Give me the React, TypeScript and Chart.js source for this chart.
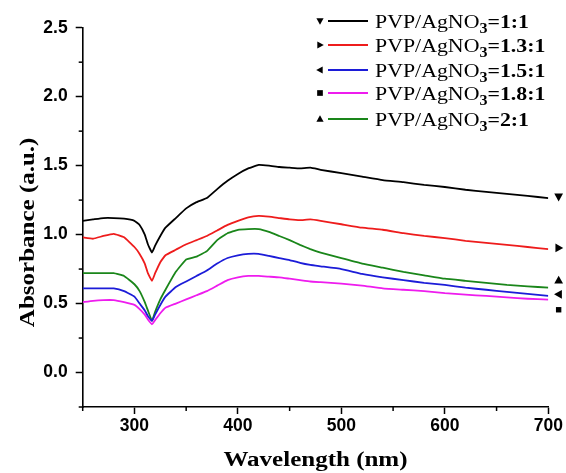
import React, { useEffect, useRef } from 'react';
import { Chart, registerables } from 'chart.js';

Chart.register(...registerables);

// ---------- data ----------
const wavelengths = [250, 260, 270, 280, 290, 300, 305, 310, 313, 317, 320, 325, 330, 340, 350, 360, 370, 380, 390, 400, 410, 420, 430, 440, 450, 460, 470, 480, 500, 520, 540, 560, 580, 600, 620, 640, 660, 680, 700];

const ratio1_1 = [1.10, 1.11, 1.12, 1.12, 1.115, 1.10, 1.07, 1.00, 0.93, 0.87, 0.92, 0.99, 1.05, 1.12, 1.19, 1.235, 1.265, 1.33, 1.39, 1.44, 1.48, 1.505, 1.50, 1.49, 1.485, 1.48, 1.485, 1.47, 1.445, 1.42, 1.395, 1.38, 1.36, 1.345, 1.325, 1.31, 1.295, 1.28, 1.265];
const ratio1_3 = [0.98, 0.97, 0.99, 1.005, 0.98, 0.91, 0.86, 0.79, 0.72, 0.665, 0.72, 0.80, 0.85, 0.89, 0.93, 0.96, 0.99, 1.03, 1.07, 1.10, 1.125, 1.135, 1.13, 1.12, 1.11, 1.105, 1.11, 1.10, 1.075, 1.05, 1.035, 1.01, 0.99, 0.975, 0.955, 0.94, 0.925, 0.91, 0.895];
const ratio1_5 = [0.61, 0.61, 0.61, 0.61, 0.59, 0.55, 0.50, 0.45, 0.41, 0.375, 0.42, 0.49, 0.55, 0.62, 0.66, 0.70, 0.74, 0.79, 0.83, 0.85, 0.86, 0.86, 0.845, 0.83, 0.815, 0.795, 0.78, 0.77, 0.75, 0.715, 0.69, 0.67, 0.65, 0.635, 0.615, 0.60, 0.585, 0.57, 0.555];
const ratio1_8 = [0.51, 0.52, 0.525, 0.525, 0.51, 0.49, 0.46, 0.42, 0.385, 0.35, 0.38, 0.43, 0.47, 0.50, 0.53, 0.56, 0.59, 0.63, 0.67, 0.69, 0.70, 0.70, 0.695, 0.69, 0.68, 0.67, 0.66, 0.655, 0.645, 0.63, 0.61, 0.60, 0.59, 0.575, 0.565, 0.555, 0.545, 0.535, 0.528];
const ratio2_0 = [0.72, 0.72, 0.72, 0.72, 0.70, 0.64, 0.59, 0.51, 0.45, 0.375, 0.44, 0.53, 0.60, 0.73, 0.82, 0.84, 0.88, 0.96, 1.01, 1.035, 1.04, 1.04, 1.02, 0.99, 0.96, 0.925, 0.895, 0.87, 0.83, 0.79, 0.76, 0.73, 0.705, 0.68, 0.665, 0.65, 0.635, 0.625, 0.615];

const seriesValues = [ratio1_1, ratio1_3, ratio1_5, ratio1_8, ratio2_0];
const seriesRatios = ['1:1', '1.3:1', '1.5:1', '1.8:1', '2:1'];
const seriesColors = ['#000000', '#ee1c1c', '#1c1cd8', '#ee1cee', '#1a861a'];
// marker shape per series: down, right, left, square, up
const markerKinds = ['down', 'right', 'left', 'square', 'up'];
const endMarkerX = 710;
const endMarkerY = [1.274, 0.903, 0.567, 0.455, 0.669];

const xMin = 250, xMax = 700, xStep = 50, xLabelStep = 100;
const yMin = -0.25, yMax = 2.5, yStep = 0.25, yLabelStep = 0.5;

const xTitle = 'Wavelength (nm)';
const yTitle = 'Absorbance (a.u.)';
const legendPrefix = 'PVP/AgNO';
const legendSub = '3';

// ---------- helpers ----------
const isMultiple = (v: number, step: number) => Math.abs(v / step - Math.round(v / step)) < 1e-6;

const rotationFor = (k: string) => (k === 'down' ? 180 : k === 'right' ? 90 : k === 'left' ? 270 : 0);

function drawMarker(ctx: CanvasRenderingContext2D, kind: string, x: number, y: number, r: number) {
  ctx.save();
  ctx.fillStyle = '#000';
  ctx.beginPath();
  if (kind === 'square') {
    ctx.rect(x - r * 0.75, y - r * 0.75, r * 1.5, r * 1.5);
  } else {
    ctx.translate(x, y);
    ctx.rotate((rotationFor(kind) * Math.PI) / 180);
    ctx.moveTo(0, -r);
    ctx.lineTo(r * 0.95, r * 0.7);
    ctx.lineTo(-r * 0.95, r * 0.7);
    ctx.closePath();
  }
  ctx.fill();
  ctx.restore();
}

const minorTickPlugin = {
  id: 'minorTicks',
  afterDraw(chart: any) {
    const ctx = chart.ctx as CanvasRenderingContext2D;
    const xs = chart.scales.x;
    const ys = chart.scales.y;
    ctx.save();
    ctx.strokeStyle = '#000';
    ctx.lineWidth = 1.5;
    for (let v = xMin; v <= xMax + 1e-9; v += xStep) {
      if (isMultiple(v, xLabelStep)) continue;
      const px = xs.getPixelForValue(v);
      ctx.beginPath();
      ctx.moveTo(px, ys.bottom);
      ctx.lineTo(px, ys.bottom + 4);
      ctx.stroke();
    }
    for (let v = yMin; v <= yMax + 1e-9; v += yStep) {
      if (isMultiple(v, yLabelStep)) continue;
      const py = ys.getPixelForValue(v);
      ctx.beginPath();
      ctx.moveTo(xs.left, py);
      ctx.lineTo(xs.left - 4, py);
      ctx.stroke();
    }
    ctx.restore();
  },
};

// end-of-curve markers placed just past the right end of the x axis
const endMarkerPlugin = {
  id: 'endMarkers',
  afterDatasetsDraw(chart: any) {
    const ctx = chart.ctx as CanvasRenderingContext2D;
    const xs = chart.scales.x;
    const ys = chart.scales.y;
    endMarkerY.forEach((v, i) => {
      const px = xs.getPixelForValue(endMarkerX);
      const py = ys.getPixelForValue(v);
      drawMarker(ctx, markerKinds[i], px, py, markerKinds[i] === 'square' ? 3.6 : 4.6);
    });
  },
};

const titlesPlugin = {
  id: 'axisTitles',
  afterDraw(chart: any) {
    const ctx = chart.ctx as CanvasRenderingContext2D;
    const xs = chart.scales.x;
    const ys = chart.scales.y;
    ctx.save();
    ctx.fillStyle = '#000';
    ctx.font = 'bold 20px "Liberation Serif", "Times New Roman", serif';
    ctx.textAlign = 'center';
    ctx.textBaseline = 'alphabetic';
    ctx.save();
    ctx.translate((xs.left + xs.right) / 2, 466);
    ctx.scale(1.25, 1);
    ctx.fillText(xTitle, 0, 0);
    ctx.restore();
    ctx.save();
    ctx.translate(34, (ys.top + ys.bottom) / 2 + 15);
    ctx.rotate(-Math.PI / 2);
    ctx.scale(1.25, 1);
    ctx.fillText(yTitle, 0, 0);
    ctx.restore();
    ctx.restore();
  },
};

const legendRowsY = [21, 45, 70, 93, 119];

const legendPlugin = {
  id: 'customLegend',
  afterDraw(chart: any) {
    const ctx = chart.ctx as CanvasRenderingContext2D;
    ctx.save();
    const sx = 1.15;
    seriesRatios.forEach((ratio, i) => {
      const cy = legendRowsY[i];
      drawMarker(ctx, markerKinds[i], 320, cy, 3.8);
      ctx.strokeStyle = seriesColors[i];
      ctx.lineWidth = 2;
      ctx.beginPath();
      ctx.moveTo(328, cy);
      ctx.lineTo(368, cy);
      ctx.stroke();
      ctx.save();
      ctx.translate(375, cy + 6.5);
      ctx.scale(sx, 1);
      ctx.fillStyle = '#000';
      ctx.textAlign = 'left';
      ctx.textBaseline = 'alphabetic';
      let x = 0;
      ctx.font = '19px "Liberation Serif", "Times New Roman", serif';
      ctx.fillText(legendPrefix, x, 0);
      x += ctx.measureText(legendPrefix).width;
      ctx.font = 'bold 14px "Liberation Serif", "Times New Roman", serif';
      ctx.fillText(legendSub, x, 5);
      x += ctx.measureText(legendSub).width;
      ctx.font = 'bold 19px "Liberation Serif", "Times New Roman", serif';
      ctx.fillText('=' + ratio, x, 0);
      ctx.restore();
    });
    ctx.restore();
  },
};

export default function App() {
  const canvasRef = useRef<HTMLCanvasElement | null>(null);

  useEffect(() => {
    if (!canvasRef.current) return;
    const lineSets = seriesValues.map((vals, i) => ({
      type: 'line' as const,
      label: 'PVP/AgNO3=' + seriesRatios[i],
      data: wavelengths.map((w, j) => ({ x: w, y: vals[j] })),
      borderColor: seriesColors[i],
      borderWidth: 1.8,
      pointRadius: 0,
      tension: 0.1,
      fill: false,
    }));

    const tickFont = { family: '"Liberation Sans", Arial, sans-serif', size: 17.5, weight: 'bold' as const };

    const chart = new Chart(canvasRef.current, {
      type: 'line',
      data: { datasets: lineSets as any },
      options: {
        animation: false,
        responsive: false,
        layout: { padding: { left: 0, top: 27.7, right: 17.7, bottom: 0 } },
        plugins: { legend: { display: false }, tooltip: { enabled: false } },
        scales: {
          x: {
            type: 'linear',
            min: xMin,
            max: xMax,
            afterFit: (s: any) => { s.height = 66; },
            grid: {
              drawOnChartArea: false,
              drawTicks: true,
              tickLength: 7,
              tickWidth: 1.5,
              tickColor: (c: any) => (isMultiple(c.tick.value, xLabelStep) ? '#000' : 'rgba(0,0,0,0)'),
            },
            border: { display: true, color: '#000', width: 1.6 },
            ticks: {
              stepSize: xStep,
              autoSkip: false,
              maxRotation: 0,
              color: '#000',
              font: tickFont,
              padding: 2,
              callback: (v: any) => (isMultiple(Number(v), xLabelStep) ? String(v) : ''),
            },
          },
          y: {
            type: 'linear',
            min: yMin,
            max: yMax,
            afterFit: (s: any) => { s.width = 82.7; },
            grid: {
              drawOnChartArea: false,
              drawTicks: true,
              tickLength: 7,
              tickWidth: 1.5,
              tickColor: (c: any) => (isMultiple(c.tick.value, yLabelStep) ? '#000' : 'rgba(0,0,0,0)'),
            },
            border: { display: true, color: '#000', width: 1.6 },
            ticks: {
              stepSize: yStep,
              autoSkip: false,
              color: '#000',
              font: tickFont,
              padding: 8,
              callback: (v: any) => (isMultiple(Number(v), yLabelStep) ? Number(v).toFixed(1) : ''),
            },
          },
        },
      },
      plugins: [minorTickPlugin, endMarkerPlugin, titlesPlugin, legendPlugin],
    });
    return () => chart.destroy();
  }, []);

  return (
    <div style={{ position: 'absolute', left: 0, top: 0, width: 566, height: 473, background: '#fff' }}>
      <canvas ref={canvasRef} width={566} height={473} style={{ display: 'block' }} />
    </div>
  );
}
